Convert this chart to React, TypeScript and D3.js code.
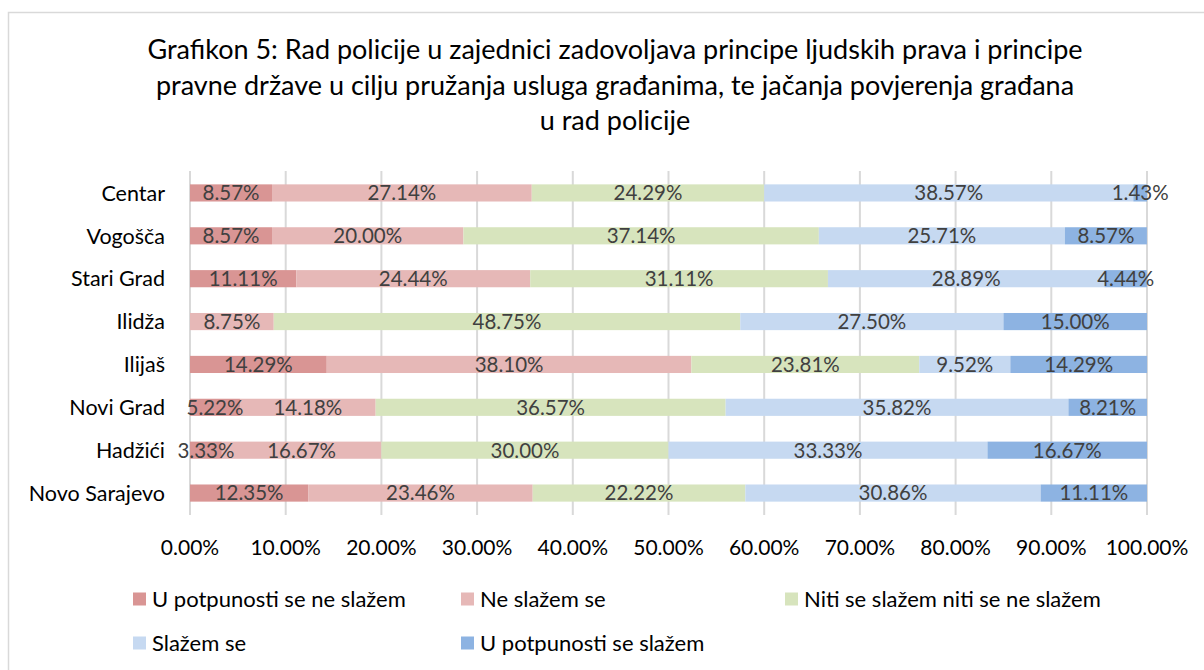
import React, { useEffect, useRef } from "react";
import * as d3 from "d3";

const categories = [
  "Centar",
  "Vogošča",
  "Stari Grad",
  "Ilidža",
  "Ilijaš",
  "Novi Grad",
  "Hadžići",
  "Novo Sarajevo",
];

const seriesNames = [
  "U potpunosti se ne slažem",
  "Ne slažem se",
  "Niti se slažem niti se ne slažem",
  "Slažem se",
  "U potpunosti se slažem",
];

const stronglyDisagree = [8.57, 8.57, 11.11, 0, 14.29, 5.22, 3.33, 12.35];
const disagree = [27.14, 20.0, 24.44, 8.75, 38.1, 14.18, 16.67, 23.46];
const neutral = [24.29, 37.14, 31.11, 48.75, 23.81, 36.57, 30.0, 22.22];
const agree = [38.57, 25.71, 28.89, 27.5, 9.52, 35.82, 33.33, 30.86];
const stronglyAgree = [1.43, 8.57, 4.44, 15.0, 14.29, 8.21, 16.67, 11.11];

const colors = ["#d99594", "#e6b8b7", "#d7e4bd", "#c6d9f1", "#8db3e2"];
const tickValues = [0, 10, 20, 30, 40, 50, 60, 70, 80, 90, 100];
const titleLines = [
  "Grafikon 5: Rad policije u zajednici zadovoljava principe ljudskih prava i principe",
  "pravne države u cilju pružanja usluga građanima, te jačanja povjerenja građana",
  "u rad policije",
];

const FONT = "Lato, 'Open Sans', sans-serif";

const App: React.FC = () => {
  const svgRef = useRef<SVGSVGElement>(null);
  const width = 1204;
  const height = 670;

  useEffect(() => {
    const svg = d3.select(svgRef.current);
    svg.selectAll("*").remove();

    const series = [stronglyDisagree, disagree, neutral, agree, stronglyAgree];
    const rows = categories.map((c, i) => {
      const row: any = { cat: c };
      seriesNames.forEach((s, k) => (row[s] = series[k][i]));
      return row;
    });
    const stacked = d3.stack<any>().keys(seriesNames)(rows);

    const x = d3.scaleLinear().domain([0, 100]).range([190, 1147]);
    const y = d3
      .scaleBand()
      .domain(categories)
      .range([171.5, 514.5])
      .paddingInner(0.6)
      .paddingOuter(0.3);

    // frame
    svg.append("rect")
      .attr("x", 8.5).attr("y", 12.5)
      .attr("width", 1210).attr("height", 680)
      .attr("fill", "#fff").attr("stroke", "#d9d9d9").attr("stroke-width", 1.5);

    // title
    svg.append("g")
      .selectAll("text")
      .data(titleLines)
      .join("text")
      .attr("x", 615)
      .attr("y", (_, i) => 59 + i * 35.5)
      .attr("text-anchor", "middle")
      .attr("font-family", FONT)
      .attr("font-size", 27)
      .attr("fill", "#000")
      .text((d) => d);

    // gridlines
    svg.append("g")
      .selectAll("line")
      .data(tickValues)
      .join("line")
      .attr("x1", (d) => x(d)).attr("x2", (d) => x(d))
      .attr("y1", 171).attr("y2", 515)
      .attr("stroke", "#d9d9d9").attr("stroke-width", 2);

    // bars
    const layer = svg.append("g")
      .selectAll("g")
      .data(stacked)
      .join("g")
      .attr("fill", (_, i) => colors[i]);

    layer.selectAll("rect")
      .data((d) => d.map((v) => ({ v, cat: v.data.cat })))
      .join("rect")
      .attr("x", (d) => x(d.v[0]))
      .attr("y", (d) => y(d.cat)!)
      .attr("width", (d) => x(d.v[1]) - x(d.v[0]))
      .attr("height", y.bandwidth());

    // data labels
    const labels = svg.append("g");
    stacked.forEach((s) => {
      s.forEach((v) => {
        const val = v[1] - v[0];
        if (val <= 0) return;
        labels.append("text")
          .attr("x", x((v[0] + v[1]) / 2))
          .attr("y", y(v.data.cat)! + y.bandwidth() / 2)
          .attr("dy", "0.36em")
          .attr("text-anchor", "middle")
          .attr("font-family", FONT)
          .attr("font-size", 20.5)
          .attr("fill", "#404040")
          .text(d3.format(".2f")(val) + "%");
      });
    });

    // category labels
    svg.append("g")
      .selectAll("text")
      .data(categories)
      .join("text")
      .attr("x", 165)
      .attr("y", (d) => y(d)! + y.bandwidth() / 2)
      .attr("dy", "0.36em")
      .attr("text-anchor", "end")
      .attr("font-family", FONT)
      .attr("font-size", 21.5)
      .attr("fill", "#000")
      .text((d) => d);

    // x tick labels
    svg.append("g")
      .selectAll("text")
      .data(tickValues)
      .join("text")
      .attr("x", (d) => x(d))
      .attr("y", 547)
      .attr("dy", "0.36em")
      .attr("text-anchor", "middle")
      .attr("font-family", FONT)
      .attr("font-size", 21)
      .attr("fill", "#000")
      .text((d) => d3.format(".2f")(d) + "%");

    // legend
    const legendPos = [
      [133, 599],
      [461, 599],
      [785, 599],
      [133, 643],
      [461, 643],
    ];
    const lg = svg.append("g")
      .selectAll("g")
      .data(seriesNames)
      .join("g")
      .attr("transform", (_, i) => `translate(${legendPos[i][0]},${legendPos[i][1]})`);
    lg.append("rect")
      .attr("x", 0).attr("y", -6.5)
      .attr("width", 13).attr("height", 13)
      .attr("fill", (_, i) => colors[i]);
    lg.append("text")
      .attr("x", 19)
      .attr("y", 0)
      .attr("dy", "0.36em")
      .attr("font-family", FONT)
      .attr("font-size", 22)
      .attr("fill", "#000")
      .text((d) => d);
  }, []);

  return (
    <svg
      ref={svgRef}
      width={width}
      height={height}
      viewBox={`0 0 ${width} ${height}`}
      style={{ position: "absolute", left: 0, top: 0 }}
    ></svg>
  );
};

export default App;
